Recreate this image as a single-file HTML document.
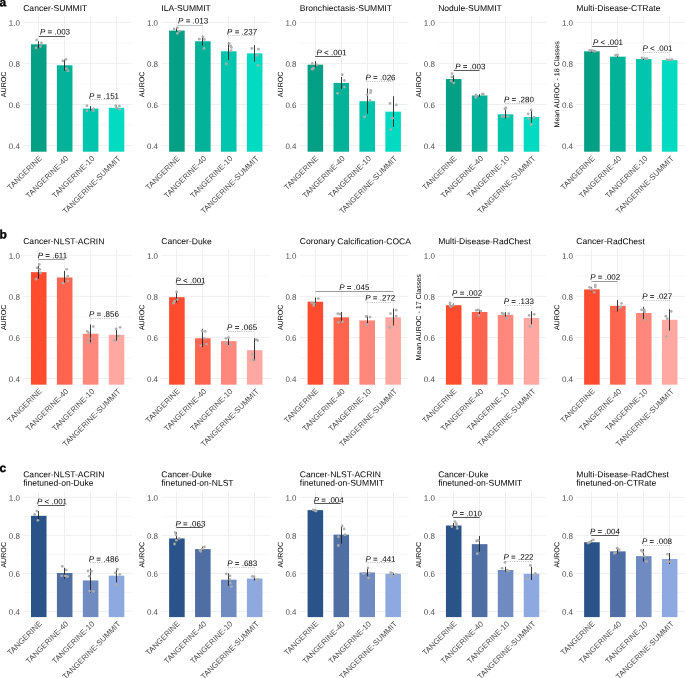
<!DOCTYPE html>
<html><head><meta charset="utf-8"><title>AUROC comparison</title>
<style>
html,body{margin:0;padding:0;background:#fff;}
svg{display:block;filter:blur(0.35px);}
text{font-family:"Liberation Sans", sans-serif;text-rendering:geometricPrecision;}
</style></head>
<body>
<svg width="685" height="678" viewBox="0 0 685 678">
<rect width="685" height="678" fill="#fff"/>
<text transform="translate(-0.6,6.2) rotate(0.05)" font-size="12" font-weight="bold" fill="#000" stroke="#000" stroke-width="0.35">a</text>
<line x1="23.2" x2="132.1" y1="125.02" y2="125.02" stroke="#f5f5f5" stroke-width="0.7"/>
<line x1="23.2" x2="132.1" y1="83.96" y2="83.96" stroke="#f5f5f5" stroke-width="0.7"/>
<line x1="23.2" x2="132.1" y1="42.9" y2="42.9" stroke="#f5f5f5" stroke-width="0.7"/>
<line x1="23.2" x2="132.1" y1="145.55" y2="145.55" stroke="#ebebeb" stroke-width="0.8"/>
<line x1="23.2" x2="132.1" y1="104.49" y2="104.49" stroke="#ebebeb" stroke-width="0.8"/>
<line x1="23.2" x2="132.1" y1="63.43" y2="63.43" stroke="#ebebeb" stroke-width="0.8"/>
<line x1="23.2" x2="132.1" y1="22.37" y2="22.37" stroke="#ebebeb" stroke-width="0.8"/>
<line x1="38.5" x2="38.5" y1="16.21" y2="151.71" stroke="#ebebeb" stroke-width="0.8"/>
<line x1="64.5" x2="64.5" y1="16.21" y2="151.71" stroke="#ebebeb" stroke-width="0.8"/>
<line x1="90.5" x2="90.5" y1="16.21" y2="151.71" stroke="#ebebeb" stroke-width="0.8"/>
<line x1="116.5" x2="116.5" y1="16.21" y2="151.71" stroke="#ebebeb" stroke-width="0.8"/>
<text transform="translate(19.9,148.95) rotate(0.05)" font-size="8.0" fill="#4d4d4d" text-anchor="end">0.4</text>
<text transform="translate(19.9,107.89) rotate(0.05)" font-size="8.0" fill="#4d4d4d" text-anchor="end">0.6</text>
<text transform="translate(19.9,66.83) rotate(0.05)" font-size="8.0" fill="#4d4d4d" text-anchor="end">0.8</text>
<text transform="translate(19.9,25.77) rotate(0.05)" font-size="8.0" fill="#4d4d4d" text-anchor="end">1.0</text>
<text transform="translate(6.05,84.36) rotate(-89.95)" font-size="7.1" fill="#000" text-anchor="middle">AUROC</text>
<text transform="translate(23.2,11) rotate(0.05)" font-size="8.55" fill="#000">Cancer-SUMMIT</text>
<rect x="30.98" y="44.34" width="15.56" height="107.37" fill="#03a085"/>
<rect x="56.91" y="65.28" width="15.56" height="86.43" fill="#02b39a"/>
<rect x="82.84" y="108.6" width="15.56" height="43.11" fill="#01c6ad"/>
<rect x="108.76" y="107.77" width="15.56" height="43.93" fill="#02dac2"/>
<line x1="38.5" x2="38.5" y1="41.26" y2="48.24" stroke="#1a1a1a" stroke-width="0.85"/>
<line x1="64.5" x2="64.5" y1="59.53" y2="70.82" stroke="#1a1a1a" stroke-width="0.85"/>
<line x1="90.5" x2="90.5" y1="106.13" y2="110.65" stroke="#1a1a1a" stroke-width="0.85"/>
<line x1="116.5" x2="116.5" y1="106.13" y2="108.8" stroke="#1a1a1a" stroke-width="0.85"/>
<circle cx="36.6" cy="39.9" r="1.4" fill="#adadad" fill-opacity="0.95"/>
<circle cx="41.5" cy="43" r="1.4" fill="#adadad" fill-opacity="0.95"/>
<circle cx="36" cy="47.9" r="1.4" fill="#adadad" fill-opacity="0.95"/>
<circle cx="40.4" cy="46.6" r="1.4" fill="#adadad" fill-opacity="0.95"/>
<circle cx="62.9" cy="60.9" r="1.4" fill="#adadad" fill-opacity="0.95"/>
<circle cx="66" cy="59.4" r="1.4" fill="#adadad" fill-opacity="0.95"/>
<circle cx="66.3" cy="68.6" r="1.4" fill="#adadad" fill-opacity="0.95"/>
<circle cx="68" cy="70.8" r="1.4" fill="#adadad" fill-opacity="0.95"/>
<circle cx="86.9" cy="105.7" r="1.4" fill="#adadad" fill-opacity="0.95"/>
<circle cx="86.9" cy="110.8" r="1.4" fill="#adadad" fill-opacity="0.95"/>
<circle cx="93.5" cy="109" r="1.4" fill="#adadad" fill-opacity="0.95"/>
<circle cx="93.5" cy="110.8" r="1.4" fill="#adadad" fill-opacity="0.95"/>
<circle cx="115.8" cy="105.7" r="1.4" fill="#adadad" fill-opacity="0.95"/>
<circle cx="119.4" cy="106" r="1.4" fill="#adadad" fill-opacity="0.95"/>
<circle cx="119.8" cy="109.3" r="1.4" fill="#adadad" fill-opacity="0.95"/>
<circle cx="116.5" cy="108" r="1.4" fill="#adadad" fill-opacity="0.95"/>
<line x1="38.8" x2="65.1" y1="36.5" y2="36.5" stroke="#3a3a3a" stroke-width="0.85"/>
<text transform="translate(40,34.4) rotate(0.05)" font-size="8.0" fill="#000"><tspan font-style="italic">P</tspan> = .003</text>
<line x1="90.3" x2="116" y1="99.5" y2="99.5" stroke="#666666" stroke-width="0.6" stroke-dasharray="0.6 1.2"/>
<text transform="translate(89,98.8) rotate(0.05)" font-size="8.0" fill="#000"><tspan font-style="italic">P</tspan> = .151</text>
<text transform="translate(42.36,158.71) rotate(-45)" font-size="7.8" fill="#4d4d4d" text-anchor="end">TANGERINE</text>
<text transform="translate(68.79,159.01) rotate(-45)" font-size="7.8" fill="#4d4d4d" text-anchor="end">TANGERINE-40</text>
<text transform="translate(94.96,159.01) rotate(-45)" font-size="7.8" fill="#4d4d4d" text-anchor="end">TANGERINE-10</text>
<text transform="translate(121.14,159.01) rotate(-45)" font-size="7.8" fill="#4d4d4d" text-anchor="end">TANGERINE-SUMMIT</text>
<line x1="161.35" x2="270.25" y1="125.02" y2="125.02" stroke="#f5f5f5" stroke-width="0.7"/>
<line x1="161.35" x2="270.25" y1="83.96" y2="83.96" stroke="#f5f5f5" stroke-width="0.7"/>
<line x1="161.35" x2="270.25" y1="42.9" y2="42.9" stroke="#f5f5f5" stroke-width="0.7"/>
<line x1="161.35" x2="270.25" y1="145.55" y2="145.55" stroke="#ebebeb" stroke-width="0.8"/>
<line x1="161.35" x2="270.25" y1="104.49" y2="104.49" stroke="#ebebeb" stroke-width="0.8"/>
<line x1="161.35" x2="270.25" y1="63.43" y2="63.43" stroke="#ebebeb" stroke-width="0.8"/>
<line x1="161.35" x2="270.25" y1="22.37" y2="22.37" stroke="#ebebeb" stroke-width="0.8"/>
<line x1="176.5" x2="176.5" y1="16.21" y2="151.71" stroke="#ebebeb" stroke-width="0.8"/>
<line x1="202.5" x2="202.5" y1="16.21" y2="151.71" stroke="#ebebeb" stroke-width="0.8"/>
<line x1="228.5" x2="228.5" y1="16.21" y2="151.71" stroke="#ebebeb" stroke-width="0.8"/>
<line x1="254.5" x2="254.5" y1="16.21" y2="151.71" stroke="#ebebeb" stroke-width="0.8"/>
<text transform="translate(158.05,148.95) rotate(0.05)" font-size="8.0" fill="#4d4d4d" text-anchor="end">0.4</text>
<text transform="translate(158.05,107.89) rotate(0.05)" font-size="8.0" fill="#4d4d4d" text-anchor="end">0.6</text>
<text transform="translate(158.05,66.83) rotate(0.05)" font-size="8.0" fill="#4d4d4d" text-anchor="end">0.8</text>
<text transform="translate(158.05,25.77) rotate(0.05)" font-size="8.0" fill="#4d4d4d" text-anchor="end">1.0</text>
<text transform="translate(144.2,84.36) rotate(-89.95)" font-size="7.1" fill="#000" text-anchor="middle">AUROC</text>
<text transform="translate(161.35,11) rotate(0.05)" font-size="8.55" fill="#000">ILA-SUMMIT</text>
<rect x="169.13" y="30.58" width="15.56" height="121.13" fill="#03a085"/>
<rect x="195.06" y="41.26" width="15.56" height="110.45" fill="#02b39a"/>
<rect x="220.99" y="51.32" width="15.56" height="100.39" fill="#01c6ad"/>
<rect x="246.91" y="53.37" width="15.56" height="98.34" fill="#02dac2"/>
<line x1="176.5" x2="176.5" y1="27.71" y2="31.4" stroke="#1a1a1a" stroke-width="0.85"/>
<line x1="202.5" x2="202.5" y1="35.71" y2="45.57" stroke="#1a1a1a" stroke-width="0.85"/>
<line x1="228.5" x2="228.5" y1="42.08" y2="59.94" stroke="#1a1a1a" stroke-width="0.85"/>
<line x1="254.5" x2="254.5" y1="45.16" y2="61.79" stroke="#1a1a1a" stroke-width="0.85"/>
<circle cx="174.1" cy="28.9" r="1.4" fill="#adadad" fill-opacity="0.95"/>
<circle cx="177.4" cy="27.8" r="1.4" fill="#adadad" fill-opacity="0.95"/>
<circle cx="177.4" cy="33.3" r="1.4" fill="#adadad" fill-opacity="0.95"/>
<circle cx="179.6" cy="31.1" r="1.4" fill="#adadad" fill-opacity="0.95"/>
<circle cx="199.3" cy="39.2" r="1.4" fill="#adadad" fill-opacity="0.95"/>
<circle cx="203" cy="36.8" r="1.4" fill="#adadad" fill-opacity="0.95"/>
<circle cx="204.4" cy="39.5" r="1.4" fill="#adadad" fill-opacity="0.95"/>
<circle cx="204" cy="48.5" r="1.4" fill="#adadad" fill-opacity="0.95"/>
<circle cx="229.2" cy="43.4" r="1.4" fill="#adadad" fill-opacity="0.95"/>
<circle cx="230.7" cy="46" r="1.4" fill="#adadad" fill-opacity="0.95"/>
<circle cx="231.4" cy="47.4" r="1.4" fill="#adadad" fill-opacity="0.95"/>
<circle cx="231.1" cy="50.7" r="1.4" fill="#adadad" fill-opacity="0.95"/>
<circle cx="226.3" cy="63.8" r="1.4" fill="#adadad" fill-opacity="0.95"/>
<circle cx="251.9" cy="48.5" r="1.4" fill="#adadad" fill-opacity="0.95"/>
<circle cx="258.4" cy="49.2" r="1.4" fill="#adadad" fill-opacity="0.95"/>
<circle cx="257.2" cy="55.4" r="1.4" fill="#adadad" fill-opacity="0.95"/>
<circle cx="258.2" cy="65.3" r="1.4" fill="#adadad" fill-opacity="0.95"/>
<line x1="177.3" x2="202.7" y1="25.5" y2="25.5" stroke="#b8b8b8" stroke-width="0.85"/>
<text transform="translate(178.1,23.6) rotate(0.05)" font-size="8.0" fill="#000"><tspan font-style="italic">P</tspan> = .013</text>
<line x1="228.5" x2="254.5" y1="35.5" y2="35.5" stroke="#666666" stroke-width="0.6" stroke-dasharray="0.6 1.2"/>
<text transform="translate(227.1,34.4) rotate(0.05)" font-size="8.0" fill="#000"><tspan font-style="italic">P</tspan> = .237</text>
<text transform="translate(180.51,158.71) rotate(-45)" font-size="7.8" fill="#4d4d4d" text-anchor="end">TANGERINE</text>
<text transform="translate(206.94,159.01) rotate(-45)" font-size="7.8" fill="#4d4d4d" text-anchor="end">TANGERINE-40</text>
<text transform="translate(233.11,159.01) rotate(-45)" font-size="7.8" fill="#4d4d4d" text-anchor="end">TANGERINE-10</text>
<text transform="translate(259.29,159.01) rotate(-45)" font-size="7.8" fill="#4d4d4d" text-anchor="end">TANGERINE-SUMMIT</text>
<line x1="299.8" x2="408.7" y1="125.02" y2="125.02" stroke="#f5f5f5" stroke-width="0.7"/>
<line x1="299.8" x2="408.7" y1="83.96" y2="83.96" stroke="#f5f5f5" stroke-width="0.7"/>
<line x1="299.8" x2="408.7" y1="42.9" y2="42.9" stroke="#f5f5f5" stroke-width="0.7"/>
<line x1="299.8" x2="408.7" y1="145.55" y2="145.55" stroke="#ebebeb" stroke-width="0.8"/>
<line x1="299.8" x2="408.7" y1="104.49" y2="104.49" stroke="#ebebeb" stroke-width="0.8"/>
<line x1="299.8" x2="408.7" y1="63.43" y2="63.43" stroke="#ebebeb" stroke-width="0.8"/>
<line x1="299.8" x2="408.7" y1="22.37" y2="22.37" stroke="#ebebeb" stroke-width="0.8"/>
<line x1="315.5" x2="315.5" y1="16.21" y2="151.71" stroke="#ebebeb" stroke-width="0.8"/>
<line x1="341.5" x2="341.5" y1="16.21" y2="151.71" stroke="#ebebeb" stroke-width="0.8"/>
<line x1="367.5" x2="367.5" y1="16.21" y2="151.71" stroke="#ebebeb" stroke-width="0.8"/>
<line x1="393.5" x2="393.5" y1="16.21" y2="151.71" stroke="#ebebeb" stroke-width="0.8"/>
<text transform="translate(296.5,148.95) rotate(0.05)" font-size="8.0" fill="#4d4d4d" text-anchor="end">0.4</text>
<text transform="translate(296.5,107.89) rotate(0.05)" font-size="8.0" fill="#4d4d4d" text-anchor="end">0.6</text>
<text transform="translate(296.5,66.83) rotate(0.05)" font-size="8.0" fill="#4d4d4d" text-anchor="end">0.8</text>
<text transform="translate(296.5,25.77) rotate(0.05)" font-size="8.0" fill="#4d4d4d" text-anchor="end">1.0</text>
<text transform="translate(282.65,84.36) rotate(-89.95)" font-size="7.1" fill="#000" text-anchor="middle">AUROC</text>
<text transform="translate(299.8,11) rotate(0.05)" font-size="8.55" fill="#000">Bronchiectasis-SUMMIT</text>
<rect x="307.58" y="64.66" width="15.56" height="87.05" fill="#03a085"/>
<rect x="333.51" y="82.93" width="15.56" height="68.78" fill="#02b39a"/>
<rect x="359.44" y="101.21" width="15.56" height="50.5" fill="#01c6ad"/>
<rect x="385.36" y="111.68" width="15.56" height="40.03" fill="#02dac2"/>
<line x1="315.5" x2="315.5" y1="61.17" y2="67.33" stroke="#1a1a1a" stroke-width="0.85"/>
<line x1="341.5" x2="341.5" y1="76.98" y2="88.89" stroke="#1a1a1a" stroke-width="0.85"/>
<line x1="367.5" x2="367.5" y1="88.48" y2="113.73" stroke="#1a1a1a" stroke-width="0.85"/>
<line x1="393.5" x2="393.5" y1="96.28" y2="126.87" stroke="#1a1a1a" stroke-width="0.85"/>
<circle cx="312.3" cy="63.4" r="1.4" fill="#adadad" fill-opacity="0.95"/>
<circle cx="317" cy="64.9" r="1.4" fill="#adadad" fill-opacity="0.95"/>
<circle cx="312.3" cy="69.2" r="1.4" fill="#adadad" fill-opacity="0.95"/>
<circle cx="313.4" cy="68.1" r="1.4" fill="#adadad" fill-opacity="0.95"/>
<circle cx="342.2" cy="74.7" r="1.4" fill="#adadad" fill-opacity="0.95"/>
<circle cx="344.4" cy="80.5" r="1.4" fill="#adadad" fill-opacity="0.95"/>
<circle cx="344.4" cy="87.1" r="1.4" fill="#adadad" fill-opacity="0.95"/>
<circle cx="337.5" cy="93.3" r="1.4" fill="#adadad" fill-opacity="0.95"/>
<circle cx="370.9" cy="90.5" r="1.4" fill="#adadad" fill-opacity="0.95"/>
<circle cx="370.5" cy="92.7" r="1.4" fill="#adadad" fill-opacity="0.95"/>
<circle cx="367.2" cy="94.6" r="1.4" fill="#adadad" fill-opacity="0.95"/>
<circle cx="370.1" cy="100.5" r="1.4" fill="#adadad" fill-opacity="0.95"/>
<circle cx="364.6" cy="116.7" r="1.4" fill="#adadad" fill-opacity="0.95"/>
<circle cx="390" cy="103.4" r="1.4" fill="#adadad" fill-opacity="0.95"/>
<circle cx="396.3" cy="104.8" r="1.4" fill="#adadad" fill-opacity="0.95"/>
<circle cx="392.6" cy="118.2" r="1.4" fill="#adadad" fill-opacity="0.95"/>
<circle cx="390.8" cy="129.6" r="1.4" fill="#adadad" fill-opacity="0.95"/>
<line x1="315.2" x2="340.8" y1="56.5" y2="56.5" stroke="#3a3a3a" stroke-width="0.85"/>
<text transform="translate(316.5,55.3) rotate(0.05)" font-size="8.0" fill="#000"><tspan font-style="italic">P</tspan> < .001</text>
<line x1="366.5" x2="392.5" y1="81.5" y2="81.5" stroke="#666666" stroke-width="0.6" stroke-dasharray="0.6 1.2"/>
<text transform="translate(365.5,80.3) rotate(0.05)" font-size="8.0" fill="#000"><tspan font-style="italic">P</tspan> = .026</text>
<text transform="translate(318.96,158.71) rotate(-45)" font-size="7.8" fill="#4d4d4d" text-anchor="end">TANGERINE</text>
<text transform="translate(345.39,159.01) rotate(-45)" font-size="7.8" fill="#4d4d4d" text-anchor="end">TANGERINE-40</text>
<text transform="translate(371.56,159.01) rotate(-45)" font-size="7.8" fill="#4d4d4d" text-anchor="end">TANGERINE-10</text>
<text transform="translate(397.74,159.01) rotate(-45)" font-size="7.8" fill="#4d4d4d" text-anchor="end">TANGERINE-SUMMIT</text>
<line x1="438.15" x2="547.05" y1="125.02" y2="125.02" stroke="#f5f5f5" stroke-width="0.7"/>
<line x1="438.15" x2="547.05" y1="83.96" y2="83.96" stroke="#f5f5f5" stroke-width="0.7"/>
<line x1="438.15" x2="547.05" y1="42.9" y2="42.9" stroke="#f5f5f5" stroke-width="0.7"/>
<line x1="438.15" x2="547.05" y1="145.55" y2="145.55" stroke="#ebebeb" stroke-width="0.8"/>
<line x1="438.15" x2="547.05" y1="104.49" y2="104.49" stroke="#ebebeb" stroke-width="0.8"/>
<line x1="438.15" x2="547.05" y1="63.43" y2="63.43" stroke="#ebebeb" stroke-width="0.8"/>
<line x1="438.15" x2="547.05" y1="22.37" y2="22.37" stroke="#ebebeb" stroke-width="0.8"/>
<line x1="453.5" x2="453.5" y1="16.21" y2="151.71" stroke="#ebebeb" stroke-width="0.8"/>
<line x1="479.5" x2="479.5" y1="16.21" y2="151.71" stroke="#ebebeb" stroke-width="0.8"/>
<line x1="505.5" x2="505.5" y1="16.21" y2="151.71" stroke="#ebebeb" stroke-width="0.8"/>
<line x1="531.5" x2="531.5" y1="16.21" y2="151.71" stroke="#ebebeb" stroke-width="0.8"/>
<text transform="translate(434.85,148.95) rotate(0.05)" font-size="8.0" fill="#4d4d4d" text-anchor="end">0.4</text>
<text transform="translate(434.85,107.89) rotate(0.05)" font-size="8.0" fill="#4d4d4d" text-anchor="end">0.6</text>
<text transform="translate(434.85,66.83) rotate(0.05)" font-size="8.0" fill="#4d4d4d" text-anchor="end">0.8</text>
<text transform="translate(434.85,25.77) rotate(0.05)" font-size="8.0" fill="#4d4d4d" text-anchor="end">1.0</text>
<text transform="translate(421,84.36) rotate(-89.95)" font-size="7.1" fill="#000" text-anchor="middle">AUROC</text>
<text transform="translate(438.15,11) rotate(0.05)" font-size="8.55" fill="#000">Nodule-SUMMIT</text>
<rect x="445.93" y="79.03" width="15.56" height="72.68" fill="#03a085"/>
<rect x="471.86" y="95.46" width="15.56" height="56.25" fill="#02b39a"/>
<rect x="497.79" y="114.34" width="15.56" height="37.36" fill="#01c6ad"/>
<rect x="523.71" y="117.01" width="15.56" height="34.7" fill="#02dac2"/>
<line x1="453.5" x2="453.5" y1="75.34" y2="82.73" stroke="#1a1a1a" stroke-width="0.85"/>
<line x1="479.5" x2="479.5" y1="94.23" y2="96.69" stroke="#1a1a1a" stroke-width="0.85"/>
<line x1="505.5" x2="505.5" y1="109.62" y2="118.45" stroke="#1a1a1a" stroke-width="0.85"/>
<line x1="531.5" x2="531.5" y1="110.24" y2="122.76" stroke="#1a1a1a" stroke-width="0.85"/>
<circle cx="451.9" cy="73.6" r="1.4" fill="#adadad" fill-opacity="0.95"/>
<circle cx="451.9" cy="76.9" r="1.4" fill="#adadad" fill-opacity="0.95"/>
<circle cx="451.2" cy="81" r="1.4" fill="#adadad" fill-opacity="0.95"/>
<circle cx="453.8" cy="82.8" r="1.4" fill="#adadad" fill-opacity="0.95"/>
<circle cx="476" cy="94.8" r="1.4" fill="#adadad" fill-opacity="0.95"/>
<circle cx="476.4" cy="96.6" r="1.4" fill="#adadad" fill-opacity="0.95"/>
<circle cx="482.2" cy="94.1" r="1.4" fill="#adadad" fill-opacity="0.95"/>
<circle cx="483.3" cy="94.1" r="1.4" fill="#adadad" fill-opacity="0.95"/>
<circle cx="475.7" cy="97.4" r="1.4" fill="#adadad" fill-opacity="0.95"/>
<circle cx="504.9" cy="108.8" r="1.4" fill="#adadad" fill-opacity="0.95"/>
<circle cx="505.9" cy="108" r="1.4" fill="#adadad" fill-opacity="0.95"/>
<circle cx="501.9" cy="116.6" r="1.4" fill="#adadad" fill-opacity="0.95"/>
<circle cx="503.8" cy="116.6" r="1.4" fill="#adadad" fill-opacity="0.95"/>
<circle cx="507.8" cy="116.6" r="1.4" fill="#adadad" fill-opacity="0.95"/>
<circle cx="531.1" cy="109.9" r="1.4" fill="#adadad" fill-opacity="0.95"/>
<circle cx="528.2" cy="113.9" r="1.4" fill="#adadad" fill-opacity="0.95"/>
<circle cx="528.6" cy="118.6" r="1.4" fill="#adadad" fill-opacity="0.95"/>
<circle cx="534.1" cy="117.4" r="1.4" fill="#adadad" fill-opacity="0.95"/>
<circle cx="531.1" cy="124.5" r="1.4" fill="#adadad" fill-opacity="0.95"/>
<line x1="453.8" x2="479.5" y1="70.5" y2="70.5" stroke="#3a3a3a" stroke-width="0.85"/>
<text transform="translate(455.3,69.2) rotate(0.05)" font-size="8.0" fill="#000"><tspan font-style="italic">P</tspan> = .003</text>
<line x1="505" x2="531" y1="103.5" y2="103.5" stroke="#666666" stroke-width="0.6" stroke-dasharray="0.6 1.2"/>
<text transform="translate(503.9,102.3) rotate(0.05)" font-size="8.0" fill="#000"><tspan font-style="italic">P</tspan> = .280</text>
<text transform="translate(457.31,158.71) rotate(-45)" font-size="7.8" fill="#4d4d4d" text-anchor="end">TANGERINE</text>
<text transform="translate(483.74,159.01) rotate(-45)" font-size="7.8" fill="#4d4d4d" text-anchor="end">TANGERINE-40</text>
<text transform="translate(509.91,159.01) rotate(-45)" font-size="7.8" fill="#4d4d4d" text-anchor="end">TANGERINE-10</text>
<text transform="translate(536.09,159.01) rotate(-45)" font-size="7.8" fill="#4d4d4d" text-anchor="end">TANGERINE-SUMMIT</text>
<line x1="576.35" x2="685.25" y1="125.02" y2="125.02" stroke="#f5f5f5" stroke-width="0.7"/>
<line x1="576.35" x2="685.25" y1="83.96" y2="83.96" stroke="#f5f5f5" stroke-width="0.7"/>
<line x1="576.35" x2="685.25" y1="42.9" y2="42.9" stroke="#f5f5f5" stroke-width="0.7"/>
<line x1="576.35" x2="685.25" y1="145.55" y2="145.55" stroke="#ebebeb" stroke-width="0.8"/>
<line x1="576.35" x2="685.25" y1="104.49" y2="104.49" stroke="#ebebeb" stroke-width="0.8"/>
<line x1="576.35" x2="685.25" y1="63.43" y2="63.43" stroke="#ebebeb" stroke-width="0.8"/>
<line x1="576.35" x2="685.25" y1="22.37" y2="22.37" stroke="#ebebeb" stroke-width="0.8"/>
<line x1="591.5" x2="591.5" y1="16.21" y2="151.71" stroke="#ebebeb" stroke-width="0.8"/>
<line x1="617.5" x2="617.5" y1="16.21" y2="151.71" stroke="#ebebeb" stroke-width="0.8"/>
<line x1="643.5" x2="643.5" y1="16.21" y2="151.71" stroke="#ebebeb" stroke-width="0.8"/>
<line x1="669.5" x2="669.5" y1="16.21" y2="151.71" stroke="#ebebeb" stroke-width="0.8"/>
<text transform="translate(573.05,148.95) rotate(0.05)" font-size="8.0" fill="#4d4d4d" text-anchor="end">0.4</text>
<text transform="translate(573.05,107.89) rotate(0.05)" font-size="8.0" fill="#4d4d4d" text-anchor="end">0.6</text>
<text transform="translate(573.05,66.83) rotate(0.05)" font-size="8.0" fill="#4d4d4d" text-anchor="end">0.8</text>
<text transform="translate(573.05,25.77) rotate(0.05)" font-size="8.0" fill="#4d4d4d" text-anchor="end">1.0</text>
<text transform="translate(559.2,84.36) rotate(-89.95)" font-size="7.1" fill="#000" text-anchor="middle">Mean AUROC - 18 Classes</text>
<text transform="translate(576.35,11) rotate(0.05)" font-size="8.55" fill="#000">Multi-Disease-CTRate</text>
<rect x="584.13" y="51.32" width="15.56" height="100.39" fill="#03a085"/>
<rect x="610.06" y="56.66" width="15.56" height="95.05" fill="#02b39a"/>
<rect x="635.99" y="59.12" width="15.56" height="92.59" fill="#01c6ad"/>
<rect x="661.91" y="60.15" width="15.56" height="91.56" fill="#02dac2"/>
<line x1="591.5" x2="591.5" y1="50.09" y2="52.55" stroke="#1a1a1a" stroke-width="0.85"/>
<line x1="617.5" x2="617.5" y1="55.83" y2="57.48" stroke="#1a1a1a" stroke-width="0.85"/>
<line x1="643.5" x2="643.5" y1="58.3" y2="59.94" stroke="#1a1a1a" stroke-width="0.85"/>
<line x1="669.5" x2="669.5" y1="59.32" y2="60.97" stroke="#1a1a1a" stroke-width="0.85"/>
<circle cx="589.5" cy="50.5" r="1.4" fill="#adadad" fill-opacity="0.95"/>
<circle cx="591.5" cy="50.3" r="1.4" fill="#adadad" fill-opacity="0.95"/>
<circle cx="593.5" cy="51" r="1.4" fill="#adadad" fill-opacity="0.95"/>
<circle cx="595" cy="51.2" r="1.4" fill="#adadad" fill-opacity="0.95"/>
<circle cx="615.5" cy="55.3" r="1.4" fill="#adadad" fill-opacity="0.95"/>
<circle cx="617.5" cy="55" r="1.4" fill="#adadad" fill-opacity="0.95"/>
<circle cx="642" cy="58" r="1.4" fill="#adadad" fill-opacity="0.95"/>
<circle cx="644.5" cy="58.3" r="1.4" fill="#adadad" fill-opacity="0.95"/>
<circle cx="647" cy="58.7" r="1.4" fill="#adadad" fill-opacity="0.95"/>
<circle cx="667" cy="59.7" r="1.4" fill="#adadad" fill-opacity="0.95"/>
<circle cx="669.5" cy="59.8" r="1.4" fill="#adadad" fill-opacity="0.95"/>
<circle cx="672" cy="59.6" r="1.4" fill="#adadad" fill-opacity="0.95"/>
<line x1="592.1" x2="617.5" y1="46.5" y2="46.5" stroke="#3a3a3a" stroke-width="0.85"/>
<text transform="translate(593,45) rotate(0.05)" font-size="8.0" fill="#000"><tspan font-style="italic">P</tspan> < .001</text>
<line x1="643.5" x2="669.5" y1="52.5" y2="52.5" stroke="#666666" stroke-width="0.6" stroke-dasharray="0.6 1.2"/>
<text transform="translate(642.5,51.1) rotate(0.05)" font-size="8.0" fill="#000"><tspan font-style="italic">P</tspan> < .001</text>
<text transform="translate(595.51,158.71) rotate(-45)" font-size="7.8" fill="#4d4d4d" text-anchor="end">TANGERINE</text>
<text transform="translate(621.94,159.01) rotate(-45)" font-size="7.8" fill="#4d4d4d" text-anchor="end">TANGERINE-40</text>
<text transform="translate(648.11,159.01) rotate(-45)" font-size="7.8" fill="#4d4d4d" text-anchor="end">TANGERINE-10</text>
<text transform="translate(674.29,159.01) rotate(-45)" font-size="7.8" fill="#4d4d4d" text-anchor="end">TANGERINE-SUMMIT</text>
<text transform="translate(-0.6,238.6) rotate(0.05)" font-size="12" font-weight="bold" fill="#000" stroke="#000" stroke-width="0.35">b</text>
<line x1="23.2" x2="132.1" y1="357.97" y2="357.97" stroke="#f5f5f5" stroke-width="0.7"/>
<line x1="23.2" x2="132.1" y1="316.91" y2="316.91" stroke="#f5f5f5" stroke-width="0.7"/>
<line x1="23.2" x2="132.1" y1="275.85" y2="275.85" stroke="#f5f5f5" stroke-width="0.7"/>
<line x1="23.2" x2="132.1" y1="378.5" y2="378.5" stroke="#ebebeb" stroke-width="0.8"/>
<line x1="23.2" x2="132.1" y1="337.44" y2="337.44" stroke="#ebebeb" stroke-width="0.8"/>
<line x1="23.2" x2="132.1" y1="296.38" y2="296.38" stroke="#ebebeb" stroke-width="0.8"/>
<line x1="23.2" x2="132.1" y1="255.32" y2="255.32" stroke="#ebebeb" stroke-width="0.8"/>
<line x1="38.5" x2="38.5" y1="249.16" y2="384.66" stroke="#ebebeb" stroke-width="0.8"/>
<line x1="64.5" x2="64.5" y1="249.16" y2="384.66" stroke="#ebebeb" stroke-width="0.8"/>
<line x1="90.5" x2="90.5" y1="249.16" y2="384.66" stroke="#ebebeb" stroke-width="0.8"/>
<line x1="116.5" x2="116.5" y1="249.16" y2="384.66" stroke="#ebebeb" stroke-width="0.8"/>
<text transform="translate(19.9,381.9) rotate(0.05)" font-size="8.0" fill="#4d4d4d" text-anchor="end">0.4</text>
<text transform="translate(19.9,340.84) rotate(0.05)" font-size="8.0" fill="#4d4d4d" text-anchor="end">0.6</text>
<text transform="translate(19.9,299.78) rotate(0.05)" font-size="8.0" fill="#4d4d4d" text-anchor="end">0.8</text>
<text transform="translate(19.9,258.72) rotate(0.05)" font-size="8.0" fill="#4d4d4d" text-anchor="end">1.0</text>
<text transform="translate(6.05,317.31) rotate(-89.95)" font-size="7.1" fill="#000" text-anchor="middle">AUROC</text>
<text transform="translate(23.2,244.1) rotate(0.05)" font-size="8.55" fill="#000">Cancer-NLST-ACRIN</text>
<rect x="30.98" y="272.15" width="15.56" height="112.5" fill="#ff4b2e"/>
<rect x="56.91" y="277.49" width="15.56" height="107.17" fill="#ff644f"/>
<rect x="82.84" y="333.74" width="15.56" height="50.91" fill="#ff877b"/>
<rect x="108.76" y="334.77" width="15.56" height="49.89" fill="#ffa8a1"/>
<line x1="38.5" x2="38.5" y1="265.59" y2="278.72" stroke="#1a1a1a" stroke-width="0.85"/>
<line x1="64.5" x2="64.5" y1="270.92" y2="282.83" stroke="#1a1a1a" stroke-width="0.85"/>
<line x1="90.5" x2="90.5" y1="324.51" y2="342.37" stroke="#1a1a1a" stroke-width="0.85"/>
<line x1="116.5" x2="116.5" y1="328.2" y2="340.72" stroke="#1a1a1a" stroke-width="0.85"/>
<circle cx="39.3" cy="264.4" r="1.4" fill="#adadad" fill-opacity="0.95"/>
<circle cx="37.1" cy="267.9" r="1.4" fill="#adadad" fill-opacity="0.95"/>
<circle cx="39.7" cy="269.3" r="1.4" fill="#adadad" fill-opacity="0.95"/>
<circle cx="40.4" cy="273" r="1.4" fill="#adadad" fill-opacity="0.95"/>
<circle cx="36" cy="279.2" r="1.4" fill="#adadad" fill-opacity="0.95"/>
<circle cx="66.7" cy="269.3" r="1.4" fill="#adadad" fill-opacity="0.95"/>
<circle cx="67.8" cy="276.2" r="1.4" fill="#adadad" fill-opacity="0.95"/>
<circle cx="67.8" cy="280.8" r="1.4" fill="#adadad" fill-opacity="0.95"/>
<circle cx="63" cy="283.2" r="1.4" fill="#adadad" fill-opacity="0.95"/>
<circle cx="93.3" cy="326.6" r="1.4" fill="#adadad" fill-opacity="0.95"/>
<circle cx="87.3" cy="331.3" r="1.4" fill="#adadad" fill-opacity="0.95"/>
<circle cx="88.6" cy="332.8" r="1.4" fill="#adadad" fill-opacity="0.95"/>
<circle cx="89.3" cy="338.8" r="1.4" fill="#adadad" fill-opacity="0.95"/>
<circle cx="88.4" cy="342.6" r="1.4" fill="#adadad" fill-opacity="0.95"/>
<circle cx="120.1" cy="327.3" r="1.4" fill="#adadad" fill-opacity="0.95"/>
<circle cx="116.1" cy="328.8" r="1.4" fill="#adadad" fill-opacity="0.95"/>
<circle cx="118.5" cy="336.1" r="1.4" fill="#adadad" fill-opacity="0.95"/>
<circle cx="114.3" cy="340.4" r="1.4" fill="#adadad" fill-opacity="0.95"/>
<line x1="38.4" x2="64.7" y1="259.5" y2="259.5" stroke="#8a8a8a" stroke-width="0.85"/>
<text transform="translate(37.7,258.3) rotate(0.05)" font-size="8.0" fill="#000"><tspan font-style="italic">P</tspan> = .611</text>
<line x1="89.7" x2="116.5" y1="318.5" y2="318.5" stroke="#666666" stroke-width="0.6" stroke-dasharray="0.6 1.2"/>
<text transform="translate(88.9,316.8) rotate(0.05)" font-size="8.0" fill="#000"><tspan font-style="italic">P</tspan> = .856</text>
<text transform="translate(42.36,391.66) rotate(-45)" font-size="7.8" fill="#4d4d4d" text-anchor="end">TANGERINE</text>
<text transform="translate(68.79,391.96) rotate(-45)" font-size="7.8" fill="#4d4d4d" text-anchor="end">TANGERINE-40</text>
<text transform="translate(94.96,391.96) rotate(-45)" font-size="7.8" fill="#4d4d4d" text-anchor="end">TANGERINE-10</text>
<text transform="translate(121.14,391.96) rotate(-45)" font-size="7.8" fill="#4d4d4d" text-anchor="end">TANGERINE-SUMMIT</text>
<line x1="161.35" x2="270.25" y1="357.97" y2="357.97" stroke="#f5f5f5" stroke-width="0.7"/>
<line x1="161.35" x2="270.25" y1="316.91" y2="316.91" stroke="#f5f5f5" stroke-width="0.7"/>
<line x1="161.35" x2="270.25" y1="275.85" y2="275.85" stroke="#f5f5f5" stroke-width="0.7"/>
<line x1="161.35" x2="270.25" y1="378.5" y2="378.5" stroke="#ebebeb" stroke-width="0.8"/>
<line x1="161.35" x2="270.25" y1="337.44" y2="337.44" stroke="#ebebeb" stroke-width="0.8"/>
<line x1="161.35" x2="270.25" y1="296.38" y2="296.38" stroke="#ebebeb" stroke-width="0.8"/>
<line x1="161.35" x2="270.25" y1="255.32" y2="255.32" stroke="#ebebeb" stroke-width="0.8"/>
<line x1="176.5" x2="176.5" y1="249.16" y2="384.66" stroke="#ebebeb" stroke-width="0.8"/>
<line x1="202.5" x2="202.5" y1="249.16" y2="384.66" stroke="#ebebeb" stroke-width="0.8"/>
<line x1="228.5" x2="228.5" y1="249.16" y2="384.66" stroke="#ebebeb" stroke-width="0.8"/>
<line x1="254.5" x2="254.5" y1="249.16" y2="384.66" stroke="#ebebeb" stroke-width="0.8"/>
<text transform="translate(158.05,381.9) rotate(0.05)" font-size="8.0" fill="#4d4d4d" text-anchor="end">0.4</text>
<text transform="translate(158.05,340.84) rotate(0.05)" font-size="8.0" fill="#4d4d4d" text-anchor="end">0.6</text>
<text transform="translate(158.05,299.78) rotate(0.05)" font-size="8.0" fill="#4d4d4d" text-anchor="end">0.8</text>
<text transform="translate(158.05,258.72) rotate(0.05)" font-size="8.0" fill="#4d4d4d" text-anchor="end">1.0</text>
<text transform="translate(144.2,317.31) rotate(-89.95)" font-size="7.1" fill="#000" text-anchor="middle">AUROC</text>
<text transform="translate(161.35,244.1) rotate(0.05)" font-size="8.55" fill="#000">Cancer-Duke</text>
<rect x="169.13" y="297.2" width="15.56" height="87.46" fill="#ff4b2e"/>
<rect x="195.06" y="338.26" width="15.56" height="46.4" fill="#ff644f"/>
<rect x="220.99" y="341.14" width="15.56" height="43.52" fill="#ff877b"/>
<rect x="246.91" y="350.17" width="15.56" height="34.49" fill="#ffa8a1"/>
<line x1="176.5" x2="176.5" y1="291.66" y2="302.54" stroke="#1a1a1a" stroke-width="0.85"/>
<line x1="202.5" x2="202.5" y1="328.82" y2="347.09" stroke="#1a1a1a" stroke-width="0.85"/>
<line x1="228.5" x2="228.5" y1="336.82" y2="345.04" stroke="#1a1a1a" stroke-width="0.85"/>
<line x1="254.5" x2="254.5" y1="338.26" y2="360.84" stroke="#1a1a1a" stroke-width="0.85"/>
<circle cx="176.7" cy="292" r="1.4" fill="#adadad" fill-opacity="0.95"/>
<circle cx="173.5" cy="303.2" r="1.4" fill="#adadad" fill-opacity="0.95"/>
<circle cx="174.5" cy="301.1" r="1.4" fill="#adadad" fill-opacity="0.95"/>
<circle cx="177.4" cy="299.6" r="1.4" fill="#adadad" fill-opacity="0.95"/>
<circle cx="202.2" cy="331" r="1.4" fill="#adadad" fill-opacity="0.95"/>
<circle cx="205.1" cy="331.4" r="1.4" fill="#adadad" fill-opacity="0.95"/>
<circle cx="204.4" cy="338.3" r="1.4" fill="#adadad" fill-opacity="0.95"/>
<circle cx="200.8" cy="345.6" r="1.4" fill="#adadad" fill-opacity="0.95"/>
<circle cx="206.6" cy="344.1" r="1.4" fill="#adadad" fill-opacity="0.95"/>
<circle cx="226" cy="338.3" r="1.4" fill="#adadad" fill-opacity="0.95"/>
<circle cx="228.5" cy="337.6" r="1.4" fill="#adadad" fill-opacity="0.95"/>
<circle cx="225.6" cy="343.4" r="1.4" fill="#adadad" fill-opacity="0.95"/>
<circle cx="230.7" cy="344.9" r="1.4" fill="#adadad" fill-opacity="0.95"/>
<circle cx="257.7" cy="340.5" r="1.4" fill="#adadad" fill-opacity="0.95"/>
<circle cx="256.2" cy="339.7" r="1.4" fill="#adadad" fill-opacity="0.95"/>
<circle cx="252.3" cy="354.3" r="1.4" fill="#adadad" fill-opacity="0.95"/>
<circle cx="253.3" cy="360.2" r="1.4" fill="#adadad" fill-opacity="0.95"/>
<line x1="176.5" x2="203.4" y1="284.5" y2="284.5" stroke="#3a3a3a" stroke-width="0.85"/>
<text transform="translate(175.5,283.3) rotate(0.05)" font-size="8.0" fill="#000"><tspan font-style="italic">P</tspan> < .001</text>
<line x1="228" x2="254.5" y1="331.5" y2="331.5" stroke="#666666" stroke-width="0.6" stroke-dasharray="0.6 1.2"/>
<text transform="translate(227.1,330) rotate(0.05)" font-size="8.0" fill="#000"><tspan font-style="italic">P</tspan> = .065</text>
<text transform="translate(180.51,391.66) rotate(-45)" font-size="7.8" fill="#4d4d4d" text-anchor="end">TANGERINE</text>
<text transform="translate(206.94,391.96) rotate(-45)" font-size="7.8" fill="#4d4d4d" text-anchor="end">TANGERINE-40</text>
<text transform="translate(233.11,391.96) rotate(-45)" font-size="7.8" fill="#4d4d4d" text-anchor="end">TANGERINE-10</text>
<text transform="translate(259.29,391.96) rotate(-45)" font-size="7.8" fill="#4d4d4d" text-anchor="end">TANGERINE-SUMMIT</text>
<line x1="299.8" x2="408.7" y1="357.97" y2="357.97" stroke="#f5f5f5" stroke-width="0.7"/>
<line x1="299.8" x2="408.7" y1="316.91" y2="316.91" stroke="#f5f5f5" stroke-width="0.7"/>
<line x1="299.8" x2="408.7" y1="275.85" y2="275.85" stroke="#f5f5f5" stroke-width="0.7"/>
<line x1="299.8" x2="408.7" y1="378.5" y2="378.5" stroke="#ebebeb" stroke-width="0.8"/>
<line x1="299.8" x2="408.7" y1="337.44" y2="337.44" stroke="#ebebeb" stroke-width="0.8"/>
<line x1="299.8" x2="408.7" y1="296.38" y2="296.38" stroke="#ebebeb" stroke-width="0.8"/>
<line x1="299.8" x2="408.7" y1="255.32" y2="255.32" stroke="#ebebeb" stroke-width="0.8"/>
<line x1="315.5" x2="315.5" y1="249.16" y2="384.66" stroke="#ebebeb" stroke-width="0.8"/>
<line x1="341.5" x2="341.5" y1="249.16" y2="384.66" stroke="#ebebeb" stroke-width="0.8"/>
<line x1="367.5" x2="367.5" y1="249.16" y2="384.66" stroke="#ebebeb" stroke-width="0.8"/>
<line x1="393.5" x2="393.5" y1="249.16" y2="384.66" stroke="#ebebeb" stroke-width="0.8"/>
<text transform="translate(296.5,381.9) rotate(0.05)" font-size="8.0" fill="#4d4d4d" text-anchor="end">0.4</text>
<text transform="translate(296.5,340.84) rotate(0.05)" font-size="8.0" fill="#4d4d4d" text-anchor="end">0.6</text>
<text transform="translate(296.5,299.78) rotate(0.05)" font-size="8.0" fill="#4d4d4d" text-anchor="end">0.8</text>
<text transform="translate(296.5,258.72) rotate(0.05)" font-size="8.0" fill="#4d4d4d" text-anchor="end">1.0</text>
<text transform="translate(282.65,317.31) rotate(-89.95)" font-size="7.1" fill="#000" text-anchor="middle">AUROC</text>
<text transform="translate(299.8,244.1) rotate(0.05)" font-size="8.55" fill="#000">Coronary Calcification-COCA</text>
<rect x="307.58" y="301.72" width="15.56" height="82.94" fill="#ff4b2e"/>
<rect x="333.51" y="317.32" width="15.56" height="67.34" fill="#ff644f"/>
<rect x="359.44" y="320.4" width="15.56" height="64.26" fill="#ff877b"/>
<rect x="385.36" y="317.32" width="15.56" height="67.34" fill="#ffa8a1"/>
<line x1="315.5" x2="315.5" y1="297.61" y2="305.41" stroke="#1a1a1a" stroke-width="0.85"/>
<line x1="341.5" x2="341.5" y1="311.98" y2="321.43" stroke="#1a1a1a" stroke-width="0.85"/>
<line x1="367.5" x2="367.5" y1="315.68" y2="323.48" stroke="#1a1a1a" stroke-width="0.85"/>
<line x1="393.5" x2="393.5" y1="308.49" y2="325.53" stroke="#1a1a1a" stroke-width="0.85"/>
<circle cx="318.4" cy="298.6" r="1.4" fill="#adadad" fill-opacity="0.95"/>
<circle cx="312" cy="303" r="1.4" fill="#adadad" fill-opacity="0.95"/>
<circle cx="313.8" cy="305.4" r="1.4" fill="#adadad" fill-opacity="0.95"/>
<circle cx="314.5" cy="303.7" r="1.4" fill="#adadad" fill-opacity="0.95"/>
<circle cx="337.8" cy="313.6" r="1.4" fill="#adadad" fill-opacity="0.95"/>
<circle cx="339.7" cy="314.2" r="1.4" fill="#adadad" fill-opacity="0.95"/>
<circle cx="338.3" cy="322.4" r="1.4" fill="#adadad" fill-opacity="0.95"/>
<circle cx="342.7" cy="321.6" r="1.4" fill="#adadad" fill-opacity="0.95"/>
<circle cx="366.3" cy="316.5" r="1.4" fill="#adadad" fill-opacity="0.95"/>
<circle cx="370" cy="317.1" r="1.4" fill="#adadad" fill-opacity="0.95"/>
<circle cx="367" cy="324.4" r="1.4" fill="#adadad" fill-opacity="0.95"/>
<circle cx="396.2" cy="310.2" r="1.4" fill="#adadad" fill-opacity="0.95"/>
<circle cx="390.4" cy="313.6" r="1.4" fill="#adadad" fill-opacity="0.95"/>
<circle cx="396.2" cy="316.1" r="1.4" fill="#adadad" fill-opacity="0.95"/>
<circle cx="389.4" cy="327.3" r="1.4" fill="#adadad" fill-opacity="0.95"/>
<line x1="315.6" x2="393.1" y1="291.5" y2="291.5" stroke="#8a8a8a" stroke-width="0.85"/>
<text transform="translate(339.3,290.1) rotate(0.05)" font-size="8.0" fill="#000"><tspan font-style="italic">P</tspan> = .045</text>
<line x1="367" x2="392.5" y1="302.5" y2="302.5" stroke="#666666" stroke-width="0.6" stroke-dasharray="0.6 1.2"/>
<text transform="translate(365.2,300.4) rotate(0.05)" font-size="8.0" fill="#000"><tspan font-style="italic">P</tspan> = .272</text>
<text transform="translate(318.96,391.66) rotate(-45)" font-size="7.8" fill="#4d4d4d" text-anchor="end">TANGERINE</text>
<text transform="translate(345.39,391.96) rotate(-45)" font-size="7.8" fill="#4d4d4d" text-anchor="end">TANGERINE-40</text>
<text transform="translate(371.56,391.96) rotate(-45)" font-size="7.8" fill="#4d4d4d" text-anchor="end">TANGERINE-10</text>
<text transform="translate(397.74,391.96) rotate(-45)" font-size="7.8" fill="#4d4d4d" text-anchor="end">TANGERINE-SUMMIT</text>
<line x1="438.15" x2="547.05" y1="357.97" y2="357.97" stroke="#f5f5f5" stroke-width="0.7"/>
<line x1="438.15" x2="547.05" y1="316.91" y2="316.91" stroke="#f5f5f5" stroke-width="0.7"/>
<line x1="438.15" x2="547.05" y1="275.85" y2="275.85" stroke="#f5f5f5" stroke-width="0.7"/>
<line x1="438.15" x2="547.05" y1="378.5" y2="378.5" stroke="#ebebeb" stroke-width="0.8"/>
<line x1="438.15" x2="547.05" y1="337.44" y2="337.44" stroke="#ebebeb" stroke-width="0.8"/>
<line x1="438.15" x2="547.05" y1="296.38" y2="296.38" stroke="#ebebeb" stroke-width="0.8"/>
<line x1="438.15" x2="547.05" y1="255.32" y2="255.32" stroke="#ebebeb" stroke-width="0.8"/>
<line x1="453.5" x2="453.5" y1="249.16" y2="384.66" stroke="#ebebeb" stroke-width="0.8"/>
<line x1="479.5" x2="479.5" y1="249.16" y2="384.66" stroke="#ebebeb" stroke-width="0.8"/>
<line x1="505.5" x2="505.5" y1="249.16" y2="384.66" stroke="#ebebeb" stroke-width="0.8"/>
<line x1="531.5" x2="531.5" y1="249.16" y2="384.66" stroke="#ebebeb" stroke-width="0.8"/>
<text transform="translate(434.85,381.9) rotate(0.05)" font-size="8.0" fill="#4d4d4d" text-anchor="end">0.4</text>
<text transform="translate(434.85,340.84) rotate(0.05)" font-size="8.0" fill="#4d4d4d" text-anchor="end">0.6</text>
<text transform="translate(434.85,299.78) rotate(0.05)" font-size="8.0" fill="#4d4d4d" text-anchor="end">0.8</text>
<text transform="translate(434.85,258.72) rotate(0.05)" font-size="8.0" fill="#4d4d4d" text-anchor="end">1.0</text>
<text transform="translate(421,317.31) rotate(-89.95)" font-size="7.1" fill="#000" text-anchor="middle">Mean AUROC - 17 Classes</text>
<text transform="translate(438.15,244.1) rotate(0.05)" font-size="8.55" fill="#000">Multi-Disease-RadChest</text>
<rect x="445.93" y="305.21" width="15.56" height="79.45" fill="#ff4b2e"/>
<rect x="471.86" y="311.98" width="15.56" height="72.68" fill="#ff644f"/>
<rect x="497.79" y="314.86" width="15.56" height="69.8" fill="#ff877b"/>
<rect x="523.71" y="317.94" width="15.56" height="66.72" fill="#ffa8a1"/>
<line x1="453.5" x2="453.5" y1="303.57" y2="307.06" stroke="#1a1a1a" stroke-width="0.85"/>
<line x1="479.5" x2="479.5" y1="309.72" y2="314.04" stroke="#1a1a1a" stroke-width="0.85"/>
<line x1="505.5" x2="505.5" y1="312.19" y2="316.7" stroke="#1a1a1a" stroke-width="0.85"/>
<line x1="531.5" x2="531.5" y1="311.16" y2="324.3" stroke="#1a1a1a" stroke-width="0.85"/>
<circle cx="450" cy="303" r="1.4" fill="#adadad" fill-opacity="0.95"/>
<circle cx="450" cy="305.2" r="1.4" fill="#adadad" fill-opacity="0.95"/>
<circle cx="450.6" cy="306.7" r="1.4" fill="#adadad" fill-opacity="0.95"/>
<circle cx="453.2" cy="305.5" r="1.4" fill="#adadad" fill-opacity="0.95"/>
<circle cx="476.3" cy="310.3" r="1.4" fill="#adadad" fill-opacity="0.95"/>
<circle cx="478" cy="309.9" r="1.4" fill="#adadad" fill-opacity="0.95"/>
<circle cx="480.7" cy="311.1" r="1.4" fill="#adadad" fill-opacity="0.95"/>
<circle cx="478.8" cy="315.4" r="1.4" fill="#adadad" fill-opacity="0.95"/>
<circle cx="502.1" cy="313.2" r="1.4" fill="#adadad" fill-opacity="0.95"/>
<circle cx="508.7" cy="313.7" r="1.4" fill="#adadad" fill-opacity="0.95"/>
<circle cx="507.2" cy="318.1" r="1.4" fill="#adadad" fill-opacity="0.95"/>
<circle cx="504" cy="314" r="1.4" fill="#adadad" fill-opacity="0.95"/>
<circle cx="529.1" cy="315.4" r="1.4" fill="#adadad" fill-opacity="0.95"/>
<circle cx="534.2" cy="314.3" r="1.4" fill="#adadad" fill-opacity="0.95"/>
<circle cx="529.9" cy="326.4" r="1.4" fill="#adadad" fill-opacity="0.95"/>
<line x1="453.8" x2="479.8" y1="297.5" y2="297.5" stroke="#3a3a3a" stroke-width="0.85"/>
<text transform="translate(452.1,295.7) rotate(0.05)" font-size="8.0" fill="#000"><tspan font-style="italic">P</tspan> = .002</text>
<line x1="505" x2="531" y1="305.5" y2="305.5" stroke="#666666" stroke-width="0.6" stroke-dasharray="0.6 1.2"/>
<text transform="translate(503.8,303.9) rotate(0.05)" font-size="8.0" fill="#000"><tspan font-style="italic">P</tspan> = .133</text>
<text transform="translate(457.31,391.66) rotate(-45)" font-size="7.8" fill="#4d4d4d" text-anchor="end">TANGERINE</text>
<text transform="translate(483.74,391.96) rotate(-45)" font-size="7.8" fill="#4d4d4d" text-anchor="end">TANGERINE-40</text>
<text transform="translate(509.91,391.96) rotate(-45)" font-size="7.8" fill="#4d4d4d" text-anchor="end">TANGERINE-10</text>
<text transform="translate(536.09,391.96) rotate(-45)" font-size="7.8" fill="#4d4d4d" text-anchor="end">TANGERINE-SUMMIT</text>
<line x1="576.35" x2="685.25" y1="357.97" y2="357.97" stroke="#f5f5f5" stroke-width="0.7"/>
<line x1="576.35" x2="685.25" y1="316.91" y2="316.91" stroke="#f5f5f5" stroke-width="0.7"/>
<line x1="576.35" x2="685.25" y1="275.85" y2="275.85" stroke="#f5f5f5" stroke-width="0.7"/>
<line x1="576.35" x2="685.25" y1="378.5" y2="378.5" stroke="#ebebeb" stroke-width="0.8"/>
<line x1="576.35" x2="685.25" y1="337.44" y2="337.44" stroke="#ebebeb" stroke-width="0.8"/>
<line x1="576.35" x2="685.25" y1="296.38" y2="296.38" stroke="#ebebeb" stroke-width="0.8"/>
<line x1="576.35" x2="685.25" y1="255.32" y2="255.32" stroke="#ebebeb" stroke-width="0.8"/>
<line x1="591.5" x2="591.5" y1="249.16" y2="384.66" stroke="#ebebeb" stroke-width="0.8"/>
<line x1="617.5" x2="617.5" y1="249.16" y2="384.66" stroke="#ebebeb" stroke-width="0.8"/>
<line x1="643.5" x2="643.5" y1="249.16" y2="384.66" stroke="#ebebeb" stroke-width="0.8"/>
<line x1="669.5" x2="669.5" y1="249.16" y2="384.66" stroke="#ebebeb" stroke-width="0.8"/>
<text transform="translate(573.05,381.9) rotate(0.05)" font-size="8.0" fill="#4d4d4d" text-anchor="end">0.4</text>
<text transform="translate(573.05,340.84) rotate(0.05)" font-size="8.0" fill="#4d4d4d" text-anchor="end">0.6</text>
<text transform="translate(573.05,299.78) rotate(0.05)" font-size="8.0" fill="#4d4d4d" text-anchor="end">0.8</text>
<text transform="translate(573.05,258.72) rotate(0.05)" font-size="8.0" fill="#4d4d4d" text-anchor="end">1.0</text>
<text transform="translate(559.2,317.31) rotate(-89.95)" font-size="7.1" fill="#000" text-anchor="middle">AUROC</text>
<text transform="translate(576.35,244.1) rotate(0.05)" font-size="8.55" fill="#000">Cancer-RadChest</text>
<rect x="584.13" y="289.4" width="15.56" height="95.26" fill="#ff4b2e"/>
<rect x="610.06" y="305.82" width="15.56" height="78.84" fill="#ff644f"/>
<rect x="635.99" y="313.01" width="15.56" height="71.65" fill="#ff877b"/>
<rect x="661.91" y="319.78" width="15.56" height="64.87" fill="#ffa8a1"/>
<line x1="591.5" x2="591.5" y1="287.35" y2="291.45" stroke="#1a1a1a" stroke-width="0.85"/>
<line x1="617.5" x2="617.5" y1="300.08" y2="311.57" stroke="#1a1a1a" stroke-width="0.85"/>
<line x1="643.5" x2="643.5" y1="306.85" y2="319.17" stroke="#1a1a1a" stroke-width="0.85"/>
<line x1="669.5" x2="669.5" y1="309.31" y2="330.67" stroke="#1a1a1a" stroke-width="0.85"/>
<circle cx="589.5" cy="287.3" r="1.4" fill="#adadad" fill-opacity="0.95"/>
<circle cx="595.3" cy="285.1" r="1.4" fill="#adadad" fill-opacity="0.95"/>
<circle cx="595.3" cy="286.8" r="1.4" fill="#adadad" fill-opacity="0.95"/>
<circle cx="594.3" cy="292.4" r="1.4" fill="#adadad" fill-opacity="0.95"/>
<circle cx="591.7" cy="289.5" r="1.4" fill="#adadad" fill-opacity="0.95"/>
<circle cx="621.6" cy="303.4" r="1.4" fill="#adadad" fill-opacity="0.95"/>
<circle cx="620.9" cy="307" r="1.4" fill="#adadad" fill-opacity="0.95"/>
<circle cx="619.4" cy="308" r="1.4" fill="#adadad" fill-opacity="0.95"/>
<circle cx="641.6" cy="309.9" r="1.4" fill="#adadad" fill-opacity="0.95"/>
<circle cx="644.2" cy="309.9" r="1.4" fill="#adadad" fill-opacity="0.95"/>
<circle cx="644.5" cy="311.8" r="1.4" fill="#adadad" fill-opacity="0.95"/>
<circle cx="645.4" cy="319.7" r="1.4" fill="#adadad" fill-opacity="0.95"/>
<circle cx="671.2" cy="311.4" r="1.4" fill="#adadad" fill-opacity="0.95"/>
<circle cx="665.8" cy="316.2" r="1.4" fill="#adadad" fill-opacity="0.95"/>
<circle cx="667.3" cy="318.7" r="1.4" fill="#adadad" fill-opacity="0.95"/>
<circle cx="666.4" cy="336.6" r="1.4" fill="#adadad" fill-opacity="0.95"/>
<line x1="591.6" x2="617.4" y1="281.5" y2="281.5" stroke="#8a8a8a" stroke-width="0.85"/>
<text transform="translate(590.2,279.8) rotate(0.05)" font-size="8.0" fill="#000"><tspan font-style="italic">P</tspan> = .002</text>
<line x1="643.5" x2="669.5" y1="300.5" y2="300.5" stroke="#666666" stroke-width="0.6" stroke-dasharray="0.6 1.2"/>
<text transform="translate(642.2,299) rotate(0.05)" font-size="8.0" fill="#000"><tspan font-style="italic">P</tspan> = .027</text>
<text transform="translate(595.51,391.66) rotate(-45)" font-size="7.8" fill="#4d4d4d" text-anchor="end">TANGERINE</text>
<text transform="translate(621.94,391.96) rotate(-45)" font-size="7.8" fill="#4d4d4d" text-anchor="end">TANGERINE-40</text>
<text transform="translate(648.11,391.96) rotate(-45)" font-size="7.8" fill="#4d4d4d" text-anchor="end">TANGERINE-10</text>
<text transform="translate(674.29,391.96) rotate(-45)" font-size="7.8" fill="#4d4d4d" text-anchor="end">TANGERINE-SUMMIT</text>
<text transform="translate(-0.6,471.9) rotate(0.05)" font-size="12" font-weight="bold" fill="#000" stroke="#000" stroke-width="0.35">c</text>
<line x1="23.2" x2="132.1" y1="592.4" y2="592.4" stroke="#f5f5f5" stroke-width="0.7"/>
<line x1="23.2" x2="132.1" y1="554.4" y2="554.4" stroke="#f5f5f5" stroke-width="0.7"/>
<line x1="23.2" x2="132.1" y1="516.4" y2="516.4" stroke="#f5f5f5" stroke-width="0.7"/>
<line x1="23.2" x2="132.1" y1="611.4" y2="611.4" stroke="#ebebeb" stroke-width="0.8"/>
<line x1="23.2" x2="132.1" y1="573.4" y2="573.4" stroke="#ebebeb" stroke-width="0.8"/>
<line x1="23.2" x2="132.1" y1="535.4" y2="535.4" stroke="#ebebeb" stroke-width="0.8"/>
<line x1="23.2" x2="132.1" y1="497.4" y2="497.4" stroke="#ebebeb" stroke-width="0.8"/>
<line x1="38.5" x2="38.5" y1="491.7" y2="617.1" stroke="#ebebeb" stroke-width="0.8"/>
<line x1="64.5" x2="64.5" y1="491.7" y2="617.1" stroke="#ebebeb" stroke-width="0.8"/>
<line x1="90.5" x2="90.5" y1="491.7" y2="617.1" stroke="#ebebeb" stroke-width="0.8"/>
<line x1="116.5" x2="116.5" y1="491.7" y2="617.1" stroke="#ebebeb" stroke-width="0.8"/>
<text transform="translate(19.9,614.8) rotate(0.05)" font-size="8.0" fill="#4d4d4d" text-anchor="end">0.4</text>
<text transform="translate(19.9,576.8) rotate(0.05)" font-size="8.0" fill="#4d4d4d" text-anchor="end">0.6</text>
<text transform="translate(19.9,538.8) rotate(0.05)" font-size="8.0" fill="#4d4d4d" text-anchor="end">0.8</text>
<text transform="translate(19.9,500.8) rotate(0.05)" font-size="8.0" fill="#4d4d4d" text-anchor="end">1.0</text>
<text transform="translate(6.05,554.8) rotate(-89.95)" font-size="7.1" fill="#000" text-anchor="middle">AUROC</text>
<text transform="translate(23.2,477.2) rotate(0.05)" font-size="8.55" fill="#000">Cancer-NLST-ACRIN</text>
<text transform="translate(23.2,485.8) rotate(0.05)" font-size="8.55" fill="#000">finetuned-on-Duke</text>
<rect x="30.98" y="515.83" width="15.56" height="101.27" fill="#2a5489"/>
<rect x="56.91" y="573.02" width="15.56" height="44.08" fill="#4f6fa4"/>
<rect x="82.84" y="580.43" width="15.56" height="36.67" fill="#6f8bc1"/>
<rect x="108.76" y="575.68" width="15.56" height="41.42" fill="#8da9df"/>
<line x1="38.5" x2="38.5" y1="511.08" y2="521.15" stroke="#1a1a1a" stroke-width="0.85"/>
<line x1="64.5" x2="64.5" y1="567.89" y2="578.72" stroke="#1a1a1a" stroke-width="0.85"/>
<line x1="90.5" x2="90.5" y1="568.46" y2="592.59" stroke="#1a1a1a" stroke-width="0.85"/>
<line x1="116.5" x2="116.5" y1="568.46" y2="582.33" stroke="#1a1a1a" stroke-width="0.85"/>
<circle cx="36.8" cy="511.1" r="1.4" fill="#adadad" fill-opacity="0.95"/>
<circle cx="34.6" cy="514.5" r="1.4" fill="#adadad" fill-opacity="0.95"/>
<circle cx="37.9" cy="520.3" r="1.4" fill="#adadad" fill-opacity="0.95"/>
<circle cx="62.3" cy="566.3" r="1.4" fill="#adadad" fill-opacity="0.95"/>
<circle cx="66.2" cy="570" r="1.4" fill="#adadad" fill-opacity="0.95"/>
<circle cx="61.6" cy="575.8" r="1.4" fill="#adadad" fill-opacity="0.95"/>
<circle cx="67.4" cy="576.5" r="1.4" fill="#adadad" fill-opacity="0.95"/>
<circle cx="65.2" cy="575.8" r="1.4" fill="#adadad" fill-opacity="0.95"/>
<circle cx="88.1" cy="571" r="1.4" fill="#adadad" fill-opacity="0.95"/>
<circle cx="91.5" cy="571.4" r="1.4" fill="#adadad" fill-opacity="0.95"/>
<circle cx="89.3" cy="576.2" r="1.4" fill="#adadad" fill-opacity="0.95"/>
<circle cx="89.6" cy="591.1" r="1.4" fill="#adadad" fill-opacity="0.95"/>
<circle cx="93.4" cy="591.4" r="1.4" fill="#adadad" fill-opacity="0.95"/>
<circle cx="117.3" cy="569.2" r="1.4" fill="#adadad" fill-opacity="0.95"/>
<circle cx="115.3" cy="572.9" r="1.4" fill="#adadad" fill-opacity="0.95"/>
<circle cx="119.7" cy="574.3" r="1.4" fill="#adadad" fill-opacity="0.95"/>
<circle cx="116.3" cy="585" r="1.4" fill="#adadad" fill-opacity="0.95"/>
<line x1="38" x2="64.8" y1="505.5" y2="505.5" stroke="#3a3a3a" stroke-width="0.85"/>
<text transform="translate(37,504.2) rotate(0.05)" font-size="8.0" fill="#000"><tspan font-style="italic">P</tspan> < .001</text>
<line x1="90" x2="116.3" y1="562.5" y2="562.5" stroke="#666666" stroke-width="0.6" stroke-dasharray="0.6 1.2"/>
<text transform="translate(88.8,561.7) rotate(0.05)" font-size="8.0" fill="#000"><tspan font-style="italic">P</tspan> = .486</text>
<text transform="translate(42.36,624.1) rotate(-45)" font-size="7.8" fill="#4d4d4d" text-anchor="end">TANGERINE</text>
<text transform="translate(68.79,624.4) rotate(-45)" font-size="7.8" fill="#4d4d4d" text-anchor="end">TANGERINE-40</text>
<text transform="translate(94.96,624.4) rotate(-45)" font-size="7.8" fill="#4d4d4d" text-anchor="end">TANGERINE-10</text>
<text transform="translate(121.14,624.4) rotate(-45)" font-size="7.8" fill="#4d4d4d" text-anchor="end">TANGERINE-SUMMIT</text>
<line x1="161.35" x2="270.25" y1="592.4" y2="592.4" stroke="#f5f5f5" stroke-width="0.7"/>
<line x1="161.35" x2="270.25" y1="554.4" y2="554.4" stroke="#f5f5f5" stroke-width="0.7"/>
<line x1="161.35" x2="270.25" y1="516.4" y2="516.4" stroke="#f5f5f5" stroke-width="0.7"/>
<line x1="161.35" x2="270.25" y1="611.4" y2="611.4" stroke="#ebebeb" stroke-width="0.8"/>
<line x1="161.35" x2="270.25" y1="573.4" y2="573.4" stroke="#ebebeb" stroke-width="0.8"/>
<line x1="161.35" x2="270.25" y1="535.4" y2="535.4" stroke="#ebebeb" stroke-width="0.8"/>
<line x1="161.35" x2="270.25" y1="497.4" y2="497.4" stroke="#ebebeb" stroke-width="0.8"/>
<line x1="176.5" x2="176.5" y1="491.7" y2="617.1" stroke="#ebebeb" stroke-width="0.8"/>
<line x1="202.5" x2="202.5" y1="491.7" y2="617.1" stroke="#ebebeb" stroke-width="0.8"/>
<line x1="228.5" x2="228.5" y1="491.7" y2="617.1" stroke="#ebebeb" stroke-width="0.8"/>
<line x1="254.5" x2="254.5" y1="491.7" y2="617.1" stroke="#ebebeb" stroke-width="0.8"/>
<text transform="translate(158.05,614.8) rotate(0.05)" font-size="8.0" fill="#4d4d4d" text-anchor="end">0.4</text>
<text transform="translate(158.05,576.8) rotate(0.05)" font-size="8.0" fill="#4d4d4d" text-anchor="end">0.6</text>
<text transform="translate(158.05,538.8) rotate(0.05)" font-size="8.0" fill="#4d4d4d" text-anchor="end">0.8</text>
<text transform="translate(158.05,500.8) rotate(0.05)" font-size="8.0" fill="#4d4d4d" text-anchor="end">1.0</text>
<text transform="translate(144.2,554.8) rotate(-89.95)" font-size="7.1" fill="#000" text-anchor="middle">AUROC</text>
<text transform="translate(161.35,477.2) rotate(0.05)" font-size="8.55" fill="#000">Cancer-Duke</text>
<text transform="translate(161.35,485.8) rotate(0.05)" font-size="8.55" fill="#000">finetuned-on-NLST</text>
<rect x="169.13" y="538.44" width="15.56" height="78.66" fill="#2a5489"/>
<rect x="195.06" y="549.08" width="15.56" height="68.02" fill="#4f6fa4"/>
<rect x="220.99" y="579.67" width="15.56" height="37.43" fill="#6f8bc1"/>
<rect x="246.91" y="578.53" width="15.56" height="38.57" fill="#8da9df"/>
<line x1="176.5" x2="176.5" y1="532.17" y2="541.86" stroke="#1a1a1a" stroke-width="0.85"/>
<line x1="202.5" x2="202.5" y1="546.61" y2="551.36" stroke="#1a1a1a" stroke-width="0.85"/>
<line x1="228.5" x2="228.5" y1="573.4" y2="585.94" stroke="#1a1a1a" stroke-width="0.85"/>
<line x1="254.5" x2="254.5" y1="575.87" y2="580.43" stroke="#1a1a1a" stroke-width="0.85"/>
<circle cx="175.2" cy="532.6" r="1.4" fill="#adadad" fill-opacity="0.95"/>
<circle cx="176" cy="534.9" r="1.4" fill="#adadad" fill-opacity="0.95"/>
<circle cx="179.3" cy="538.4" r="1.4" fill="#adadad" fill-opacity="0.95"/>
<circle cx="176.4" cy="540.3" r="1.4" fill="#adadad" fill-opacity="0.95"/>
<circle cx="174.5" cy="544" r="1.4" fill="#adadad" fill-opacity="0.95"/>
<circle cx="204.4" cy="546.9" r="1.4" fill="#adadad" fill-opacity="0.95"/>
<circle cx="202.2" cy="549.1" r="1.4" fill="#adadad" fill-opacity="0.95"/>
<circle cx="200" cy="550.5" r="1.4" fill="#adadad" fill-opacity="0.95"/>
<circle cx="200.8" cy="551.3" r="1.4" fill="#adadad" fill-opacity="0.95"/>
<circle cx="226.3" cy="573.9" r="1.4" fill="#adadad" fill-opacity="0.95"/>
<circle cx="230" cy="575.8" r="1.4" fill="#adadad" fill-opacity="0.95"/>
<circle cx="230" cy="579.7" r="1.4" fill="#adadad" fill-opacity="0.95"/>
<circle cx="230.4" cy="583.1" r="1.4" fill="#adadad" fill-opacity="0.95"/>
<circle cx="231.4" cy="586.6" r="1.4" fill="#adadad" fill-opacity="0.95"/>
<circle cx="252.3" cy="576.4" r="1.4" fill="#adadad" fill-opacity="0.95"/>
<circle cx="254.1" cy="576.8" r="1.4" fill="#adadad" fill-opacity="0.95"/>
<circle cx="257.7" cy="579.7" r="1.4" fill="#adadad" fill-opacity="0.95"/>
<circle cx="257" cy="580.5" r="1.4" fill="#adadad" fill-opacity="0.95"/>
<line x1="176.3" x2="202.8" y1="527.5" y2="527.5" stroke="#3a3a3a" stroke-width="0.85"/>
<text transform="translate(175.4,526.6) rotate(0.05)" font-size="8.0" fill="#000"><tspan font-style="italic">P</tspan> = .063</text>
<line x1="228.5" x2="254.5" y1="567.5" y2="567.5" stroke="#666666" stroke-width="0.6" stroke-dasharray="0.6 1.2"/>
<text transform="translate(227.2,566.1) rotate(0.05)" font-size="8.0" fill="#000"><tspan font-style="italic">P</tspan> = .683</text>
<text transform="translate(180.51,624.1) rotate(-45)" font-size="7.8" fill="#4d4d4d" text-anchor="end">TANGERINE</text>
<text transform="translate(206.94,624.4) rotate(-45)" font-size="7.8" fill="#4d4d4d" text-anchor="end">TANGERINE-40</text>
<text transform="translate(233.11,624.4) rotate(-45)" font-size="7.8" fill="#4d4d4d" text-anchor="end">TANGERINE-10</text>
<text transform="translate(259.29,624.4) rotate(-45)" font-size="7.8" fill="#4d4d4d" text-anchor="end">TANGERINE-SUMMIT</text>
<line x1="299.8" x2="408.7" y1="592.4" y2="592.4" stroke="#f5f5f5" stroke-width="0.7"/>
<line x1="299.8" x2="408.7" y1="554.4" y2="554.4" stroke="#f5f5f5" stroke-width="0.7"/>
<line x1="299.8" x2="408.7" y1="516.4" y2="516.4" stroke="#f5f5f5" stroke-width="0.7"/>
<line x1="299.8" x2="408.7" y1="611.4" y2="611.4" stroke="#ebebeb" stroke-width="0.8"/>
<line x1="299.8" x2="408.7" y1="573.4" y2="573.4" stroke="#ebebeb" stroke-width="0.8"/>
<line x1="299.8" x2="408.7" y1="535.4" y2="535.4" stroke="#ebebeb" stroke-width="0.8"/>
<line x1="299.8" x2="408.7" y1="497.4" y2="497.4" stroke="#ebebeb" stroke-width="0.8"/>
<line x1="315.5" x2="315.5" y1="491.7" y2="617.1" stroke="#ebebeb" stroke-width="0.8"/>
<line x1="341.5" x2="341.5" y1="491.7" y2="617.1" stroke="#ebebeb" stroke-width="0.8"/>
<line x1="367.5" x2="367.5" y1="491.7" y2="617.1" stroke="#ebebeb" stroke-width="0.8"/>
<line x1="393.5" x2="393.5" y1="491.7" y2="617.1" stroke="#ebebeb" stroke-width="0.8"/>
<text transform="translate(296.5,614.8) rotate(0.05)" font-size="8.0" fill="#4d4d4d" text-anchor="end">0.4</text>
<text transform="translate(296.5,576.8) rotate(0.05)" font-size="8.0" fill="#4d4d4d" text-anchor="end">0.6</text>
<text transform="translate(296.5,538.8) rotate(0.05)" font-size="8.0" fill="#4d4d4d" text-anchor="end">0.8</text>
<text transform="translate(296.5,500.8) rotate(0.05)" font-size="8.0" fill="#4d4d4d" text-anchor="end">1.0</text>
<text transform="translate(282.65,554.8) rotate(-89.95)" font-size="7.1" fill="#000" text-anchor="middle">AUROC</text>
<text transform="translate(299.8,477.2) rotate(0.05)" font-size="8.55" fill="#000">Cancer-NLST-ACRIN</text>
<text transform="translate(299.8,485.8) rotate(0.05)" font-size="8.55" fill="#000">finetuned-on-SUMMIT</text>
<rect x="307.58" y="510.13" width="15.56" height="106.97" fill="#2a5489"/>
<rect x="333.51" y="534.64" width="15.56" height="82.46" fill="#4f6fa4"/>
<rect x="359.44" y="572.45" width="15.56" height="44.65" fill="#6f8bc1"/>
<rect x="385.36" y="573.78" width="15.56" height="43.32" fill="#8da9df"/>
<line x1="315.5" x2="315.5" y1="509.37" y2="511.46" stroke="#1a1a1a" stroke-width="0.85"/>
<line x1="341.5" x2="341.5" y1="525.52" y2="543.57" stroke="#1a1a1a" stroke-width="0.85"/>
<line x1="367.5" x2="367.5" y1="567.32" y2="576.25" stroke="#1a1a1a" stroke-width="0.85"/>
<line x1="393.5" x2="393.5" y1="572.83" y2="574.92" stroke="#1a1a1a" stroke-width="0.85"/>
<circle cx="313.2" cy="509.9" r="1.4" fill="#adadad" fill-opacity="0.95"/>
<circle cx="315" cy="510.5" r="1.4" fill="#adadad" fill-opacity="0.95"/>
<circle cx="316.1" cy="511" r="1.4" fill="#adadad" fill-opacity="0.95"/>
<circle cx="342.1" cy="526" r="1.4" fill="#adadad" fill-opacity="0.95"/>
<circle cx="344.2" cy="528.9" r="1.4" fill="#adadad" fill-opacity="0.95"/>
<circle cx="345" cy="534.7" r="1.4" fill="#adadad" fill-opacity="0.95"/>
<circle cx="338.3" cy="536.8" r="1.4" fill="#adadad" fill-opacity="0.95"/>
<circle cx="338.3" cy="545.5" r="1.4" fill="#adadad" fill-opacity="0.95"/>
<circle cx="368" cy="567.9" r="1.4" fill="#adadad" fill-opacity="0.95"/>
<circle cx="363.6" cy="573.7" r="1.4" fill="#adadad" fill-opacity="0.95"/>
<circle cx="369.4" cy="573" r="1.4" fill="#adadad" fill-opacity="0.95"/>
<circle cx="368.7" cy="578.1" r="1.4" fill="#adadad" fill-opacity="0.95"/>
<circle cx="390.6" cy="572.7" r="1.4" fill="#adadad" fill-opacity="0.95"/>
<circle cx="392.3" cy="573.4" r="1.4" fill="#adadad" fill-opacity="0.95"/>
<circle cx="396.4" cy="574.5" r="1.4" fill="#adadad" fill-opacity="0.95"/>
<circle cx="391.3" cy="576.2" r="1.4" fill="#adadad" fill-opacity="0.95"/>
<line x1="314.3" x2="340.6" y1="503.5" y2="503.5" stroke="#3a3a3a" stroke-width="0.85"/>
<text transform="translate(313.7,502.8) rotate(0.05)" font-size="8.0" fill="#000"><tspan font-style="italic">P</tspan> = .004</text>
<line x1="366.5" x2="392.5" y1="562.5" y2="562.5" stroke="#666666" stroke-width="0.6" stroke-dasharray="0.6 1.2"/>
<text transform="translate(365.5,561.7) rotate(0.05)" font-size="8.0" fill="#000"><tspan font-style="italic">P</tspan> = .441</text>
<text transform="translate(318.96,624.1) rotate(-45)" font-size="7.8" fill="#4d4d4d" text-anchor="end">TANGERINE</text>
<text transform="translate(345.39,624.4) rotate(-45)" font-size="7.8" fill="#4d4d4d" text-anchor="end">TANGERINE-40</text>
<text transform="translate(371.56,624.4) rotate(-45)" font-size="7.8" fill="#4d4d4d" text-anchor="end">TANGERINE-10</text>
<text transform="translate(397.74,624.4) rotate(-45)" font-size="7.8" fill="#4d4d4d" text-anchor="end">TANGERINE-SUMMIT</text>
<line x1="438.15" x2="547.05" y1="592.4" y2="592.4" stroke="#f5f5f5" stroke-width="0.7"/>
<line x1="438.15" x2="547.05" y1="554.4" y2="554.4" stroke="#f5f5f5" stroke-width="0.7"/>
<line x1="438.15" x2="547.05" y1="516.4" y2="516.4" stroke="#f5f5f5" stroke-width="0.7"/>
<line x1="438.15" x2="547.05" y1="611.4" y2="611.4" stroke="#ebebeb" stroke-width="0.8"/>
<line x1="438.15" x2="547.05" y1="573.4" y2="573.4" stroke="#ebebeb" stroke-width="0.8"/>
<line x1="438.15" x2="547.05" y1="535.4" y2="535.4" stroke="#ebebeb" stroke-width="0.8"/>
<line x1="438.15" x2="547.05" y1="497.4" y2="497.4" stroke="#ebebeb" stroke-width="0.8"/>
<line x1="453.5" x2="453.5" y1="491.7" y2="617.1" stroke="#ebebeb" stroke-width="0.8"/>
<line x1="479.5" x2="479.5" y1="491.7" y2="617.1" stroke="#ebebeb" stroke-width="0.8"/>
<line x1="505.5" x2="505.5" y1="491.7" y2="617.1" stroke="#ebebeb" stroke-width="0.8"/>
<line x1="531.5" x2="531.5" y1="491.7" y2="617.1" stroke="#ebebeb" stroke-width="0.8"/>
<text transform="translate(434.85,614.8) rotate(0.05)" font-size="8.0" fill="#4d4d4d" text-anchor="end">0.4</text>
<text transform="translate(434.85,576.8) rotate(0.05)" font-size="8.0" fill="#4d4d4d" text-anchor="end">0.6</text>
<text transform="translate(434.85,538.8) rotate(0.05)" font-size="8.0" fill="#4d4d4d" text-anchor="end">0.8</text>
<text transform="translate(434.85,500.8) rotate(0.05)" font-size="8.0" fill="#4d4d4d" text-anchor="end">1.0</text>
<text transform="translate(421,554.8) rotate(-89.95)" font-size="7.1" fill="#000" text-anchor="middle">AUROC</text>
<text transform="translate(438.15,477.2) rotate(0.05)" font-size="8.55" fill="#000">Cancer-Duke</text>
<text transform="translate(438.15,485.8) rotate(0.05)" font-size="8.55" fill="#000">finetuned-on-SUMMIT</text>
<rect x="445.93" y="525.52" width="15.56" height="91.58" fill="#2a5489"/>
<rect x="471.86" y="544.14" width="15.56" height="72.96" fill="#4f6fa4"/>
<rect x="497.79" y="569.98" width="15.56" height="47.12" fill="#6f8bc1"/>
<rect x="523.71" y="573.78" width="15.56" height="43.32" fill="#8da9df"/>
<line x1="453.5" x2="453.5" y1="523.05" y2="527.8" stroke="#1a1a1a" stroke-width="0.85"/>
<line x1="479.5" x2="479.5" y1="535.97" y2="551.74" stroke="#1a1a1a" stroke-width="0.85"/>
<line x1="505.5" x2="505.5" y1="566.75" y2="571.69" stroke="#1a1a1a" stroke-width="0.85"/>
<line x1="531.5" x2="531.5" y1="566.75" y2="580.05" stroke="#1a1a1a" stroke-width="0.85"/>
<circle cx="455" cy="521.6" r="1.4" fill="#adadad" fill-opacity="0.95"/>
<circle cx="456.1" cy="523.5" r="1.4" fill="#adadad" fill-opacity="0.95"/>
<circle cx="456.9" cy="525.5" r="1.4" fill="#adadad" fill-opacity="0.95"/>
<circle cx="457.3" cy="528.4" r="1.4" fill="#adadad" fill-opacity="0.95"/>
<circle cx="452" cy="526.7" r="1.4" fill="#adadad" fill-opacity="0.95"/>
<circle cx="476.6" cy="541" r="1.4" fill="#adadad" fill-opacity="0.95"/>
<circle cx="478.3" cy="540.5" r="1.4" fill="#adadad" fill-opacity="0.95"/>
<circle cx="477.3" cy="553.7" r="1.4" fill="#adadad" fill-opacity="0.95"/>
<circle cx="505" cy="562.4" r="1.4" fill="#adadad" fill-opacity="0.95"/>
<circle cx="502.1" cy="568.3" r="1.4" fill="#adadad" fill-opacity="0.95"/>
<circle cx="507.2" cy="570.2" r="1.4" fill="#adadad" fill-opacity="0.95"/>
<circle cx="508.4" cy="570.8" r="1.4" fill="#adadad" fill-opacity="0.95"/>
<circle cx="530.3" cy="565.4" r="1.4" fill="#adadad" fill-opacity="0.95"/>
<circle cx="535.3" cy="573.4" r="1.4" fill="#adadad" fill-opacity="0.95"/>
<circle cx="534.2" cy="575.6" r="1.4" fill="#adadad" fill-opacity="0.95"/>
<circle cx="527.7" cy="578.9" r="1.4" fill="#adadad" fill-opacity="0.95"/>
<line x1="453.3" x2="479.7" y1="517.5" y2="517.5" stroke="#3a3a3a" stroke-width="0.85"/>
<text transform="translate(451.9,516.3) rotate(0.05)" font-size="8.0" fill="#000"><tspan font-style="italic">P</tspan> = .010</text>
<line x1="505" x2="531" y1="561.5" y2="561.5" stroke="#666666" stroke-width="0.6" stroke-dasharray="0.6 1.2"/>
<text transform="translate(503.5,559.8) rotate(0.05)" font-size="8.0" fill="#000"><tspan font-style="italic">P</tspan> = .222</text>
<text transform="translate(457.31,624.1) rotate(-45)" font-size="7.8" fill="#4d4d4d" text-anchor="end">TANGERINE</text>
<text transform="translate(483.74,624.4) rotate(-45)" font-size="7.8" fill="#4d4d4d" text-anchor="end">TANGERINE-40</text>
<text transform="translate(509.91,624.4) rotate(-45)" font-size="7.8" fill="#4d4d4d" text-anchor="end">TANGERINE-10</text>
<text transform="translate(536.09,624.4) rotate(-45)" font-size="7.8" fill="#4d4d4d" text-anchor="end">TANGERINE-SUMMIT</text>
<line x1="576.35" x2="685.25" y1="592.4" y2="592.4" stroke="#f5f5f5" stroke-width="0.7"/>
<line x1="576.35" x2="685.25" y1="554.4" y2="554.4" stroke="#f5f5f5" stroke-width="0.7"/>
<line x1="576.35" x2="685.25" y1="516.4" y2="516.4" stroke="#f5f5f5" stroke-width="0.7"/>
<line x1="576.35" x2="685.25" y1="611.4" y2="611.4" stroke="#ebebeb" stroke-width="0.8"/>
<line x1="576.35" x2="685.25" y1="573.4" y2="573.4" stroke="#ebebeb" stroke-width="0.8"/>
<line x1="576.35" x2="685.25" y1="535.4" y2="535.4" stroke="#ebebeb" stroke-width="0.8"/>
<line x1="576.35" x2="685.25" y1="497.4" y2="497.4" stroke="#ebebeb" stroke-width="0.8"/>
<line x1="591.5" x2="591.5" y1="491.7" y2="617.1" stroke="#ebebeb" stroke-width="0.8"/>
<line x1="617.5" x2="617.5" y1="491.7" y2="617.1" stroke="#ebebeb" stroke-width="0.8"/>
<line x1="643.5" x2="643.5" y1="491.7" y2="617.1" stroke="#ebebeb" stroke-width="0.8"/>
<line x1="669.5" x2="669.5" y1="491.7" y2="617.1" stroke="#ebebeb" stroke-width="0.8"/>
<text transform="translate(573.05,614.8) rotate(0.05)" font-size="8.0" fill="#4d4d4d" text-anchor="end">0.4</text>
<text transform="translate(573.05,576.8) rotate(0.05)" font-size="8.0" fill="#4d4d4d" text-anchor="end">0.6</text>
<text transform="translate(573.05,538.8) rotate(0.05)" font-size="8.0" fill="#4d4d4d" text-anchor="end">0.8</text>
<text transform="translate(573.05,500.8) rotate(0.05)" font-size="8.0" fill="#4d4d4d" text-anchor="end">1.0</text>
<text transform="translate(559.2,554.8) rotate(-89.95)" font-size="7.1" fill="#000" text-anchor="middle">AUROC</text>
<text transform="translate(576.35,477.2) rotate(0.05)" font-size="8.55" fill="#000">Multi-Disease-RadChest</text>
<text transform="translate(576.35,485.8) rotate(0.05)" font-size="8.55" fill="#000">finetuned-on-CTRate</text>
<rect x="584.13" y="542.24" width="15.56" height="74.86" fill="#2a5489"/>
<rect x="610.06" y="551.36" width="15.56" height="65.74" fill="#4f6fa4"/>
<rect x="635.99" y="556.11" width="15.56" height="60.99" fill="#6f8bc1"/>
<rect x="661.91" y="558.96" width="15.56" height="58.14" fill="#8da9df"/>
<line x1="591.5" x2="591.5" y1="539.96" y2="543.76" stroke="#1a1a1a" stroke-width="0.85"/>
<line x1="617.5" x2="617.5" y1="547.18" y2="553.64" stroke="#1a1a1a" stroke-width="0.85"/>
<line x1="643.5" x2="643.5" y1="549.08" y2="561.43" stroke="#1a1a1a" stroke-width="0.85"/>
<line x1="669.5" x2="669.5" y1="553.07" y2="563.9" stroke="#1a1a1a" stroke-width="0.85"/>
<circle cx="588" cy="543.1" r="1.4" fill="#adadad" fill-opacity="0.95"/>
<circle cx="591" cy="541.7" r="1.4" fill="#adadad" fill-opacity="0.95"/>
<circle cx="593.4" cy="539.9" r="1.4" fill="#adadad" fill-opacity="0.95"/>
<circle cx="589.5" cy="542.4" r="1.4" fill="#adadad" fill-opacity="0.95"/>
<circle cx="617.2" cy="548.2" r="1.4" fill="#adadad" fill-opacity="0.95"/>
<circle cx="619.1" cy="549.7" r="1.4" fill="#adadad" fill-opacity="0.95"/>
<circle cx="614.3" cy="553.4" r="1.4" fill="#adadad" fill-opacity="0.95"/>
<circle cx="615.8" cy="552.6" r="1.4" fill="#adadad" fill-opacity="0.95"/>
<circle cx="641.3" cy="550.4" r="1.4" fill="#adadad" fill-opacity="0.95"/>
<circle cx="642.8" cy="551.9" r="1.4" fill="#adadad" fill-opacity="0.95"/>
<circle cx="644.2" cy="556.3" r="1.4" fill="#adadad" fill-opacity="0.95"/>
<circle cx="646.4" cy="561.4" r="1.4" fill="#adadad" fill-opacity="0.95"/>
<circle cx="667.6" cy="554.1" r="1.4" fill="#adadad" fill-opacity="0.95"/>
<circle cx="668.3" cy="561.4" r="1.4" fill="#adadad" fill-opacity="0.95"/>
<circle cx="670.5" cy="561.8" r="1.4" fill="#adadad" fill-opacity="0.95"/>
<line x1="591.2" x2="618.6" y1="535.5" y2="535.5" stroke="#3a3a3a" stroke-width="0.85"/>
<text transform="translate(589.9,534.3) rotate(0.05)" font-size="8.0" fill="#000"><tspan font-style="italic">P</tspan> = .004</text>
<line x1="643.5" x2="669.5" y1="545.5" y2="545.5" stroke="#666666" stroke-width="0.6" stroke-dasharray="0.6 1.2"/>
<text transform="translate(642,543.9) rotate(0.05)" font-size="8.0" fill="#000"><tspan font-style="italic">P</tspan> = .008</text>
<text transform="translate(595.51,624.1) rotate(-45)" font-size="7.8" fill="#4d4d4d" text-anchor="end">TANGERINE</text>
<text transform="translate(621.94,624.4) rotate(-45)" font-size="7.8" fill="#4d4d4d" text-anchor="end">TANGERINE-40</text>
<text transform="translate(648.11,624.4) rotate(-45)" font-size="7.8" fill="#4d4d4d" text-anchor="end">TANGERINE-10</text>
<text transform="translate(674.29,624.4) rotate(-45)" font-size="7.8" fill="#4d4d4d" text-anchor="end">TANGERINE-SUMMIT</text>
</svg>
</body></html>
